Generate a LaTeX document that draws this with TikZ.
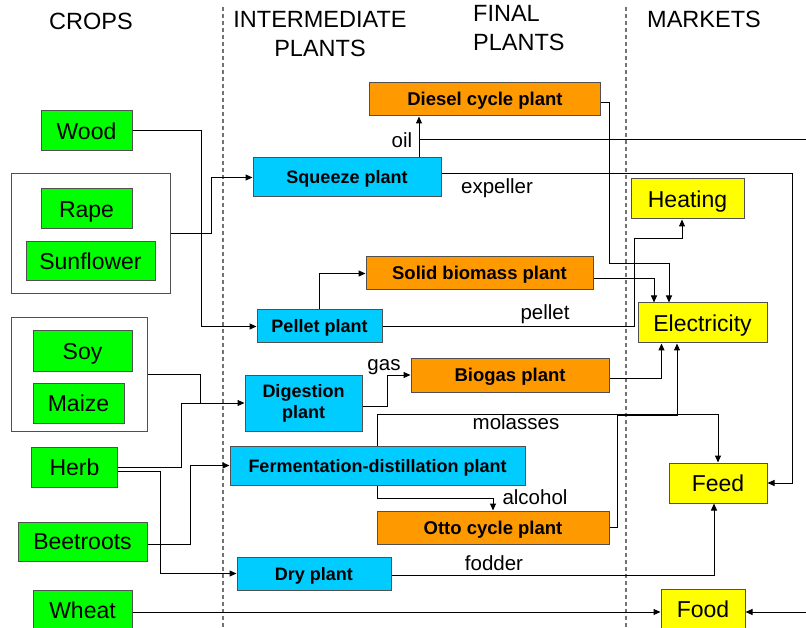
\documentclass[tikz,border=0pt]{standalone}
\usepackage{fontspec}
\setmainfont{Liberation Sans}
\usetikzlibrary{arrows.meta}

\definecolor{cropgreen}{HTML}{00FF00}
\definecolor{plantblue}{HTML}{00CCFF}
\definecolor{finalorange}{HTML}{FF9900}
\definecolor{marketyellow}{HTML}{FFFF00}
\definecolor{rahmen}{HTML}{505050}

\begin{document}
\begin{tikzpicture}[x=1pt,y=-1pt,
		kasten/.style={draw=rahmen,line width=1pt,inner sep=0pt},
		crop/.style={kasten,fill=cropgreen,font=\fontsize{23}{27}\selectfont,text height=16.5pt,text depth=0pt},
		inter/.style={kasten,fill=plantblue,align=center,font=\bfseries\fontsize{18}{21}\selectfont,text height=13pt,text depth=0pt},
		final/.style={kasten,fill=finalorange,font=\bfseries\fontsize{18.5}{22}\selectfont,text height=13pt,text depth=0pt},
		market/.style={kasten,fill=marketyellow,font=\fontsize{23}{27}\selectfont,text height=16.5pt,text depth=0pt},
		gruppe/.style={draw=rahmen,line width=1pt,inner sep=0pt},
		kopf/.style={font=\fontsize{23.5}{29}\selectfont,align=center,inner sep=0pt},
		lbl/.style={font=\fontsize{20.5}{24}\selectfont,inner sep=0pt},
		pfeil/.style={line width=1pt,-{Triangle[length=7pt,width=6pt]}},
		linie/.style={line width=1pt},
		trenn/.style={draw=black!55,line width=1.3pt,dash pattern=on 4pt off 3pt}]
		
		\useasboundingbox (0,0) rectangle (806,628);
		
		% Trennlinien und Spaltenkoepfe
		\draw[trenn] (223,7) -- (223,630);
		\draw[trenn] (626,7) -- (626,630);
		\node[kopf] (hcrops) at (91,21) {CROPS};
		\node[kopf] (hinter) at (320,34) {INTERMEDIATE\\PLANTS};
		\node[kopf,align=left,anchor=west] (hfinal) at (473,28) {FINAL\\PLANTS};
		\node[kopf] (hmarkets) at (704,19) {MARKETS};
		
		% Pflanzen
		\node[gruppe,minimum width=159pt,minimum height=120pt] (grpA) at (90.5,234) {};
		\node[gruppe,minimum width=136pt,minimum height=113pt] (grpB) at (79,374.5) {};
		\node[crop,minimum width=91pt,minimum height=40pt] (wood) at (86.5,131) {Wood};
		\node[crop,minimum width=91pt,minimum height=40pt] (rape) at (86.5,209) {Rape};
		\node[crop,minimum width=129pt,minimum height=39pt] (sunflower) at (90.5,261.5) {Sunflower};
		\node[crop,minimum width=99pt,minimum height=40pt] (soy) at (82.5,351) {Soy};
		\node[crop,minimum width=91pt,minimum height=40pt] (maize) at (78.5,403) {Maize};
		\node[crop,minimum width=86pt,minimum height=40pt] (herb) at (74.5,467) {Herb};
		\node[crop,minimum width=129pt,minimum height=39pt] (beet) at (82.5,541.5) {Beetroots};
		\node[crop,minimum width=99pt,minimum height=40pt] (wheat) at (82.5,610) {Wheat};
		
		% Zwischenanlagen
		\node[inter,minimum width=188pt,minimum height=39pt] (squeeze) at (347,177.5) {Squeeze plant};
		\node[inter,minimum width=125pt,minimum height=33pt] (pellet) at (319.5,326.5) {Pellet plant};
		\node[inter,minimum width=117pt,minimum height=56pt,text height=,text depth=] (digestion) at (303.5,403) {Digestion\\plant};
		\node[inter,minimum width=295pt,minimum height=39pt] (ferment) at (377.5,465.5) {Fermentation-distillation plant};
		\node[inter,minimum width=154pt,minimum height=33pt] (dry) at (314,573.5) {Dry plant};
		
		% Endanlagen
		\node[final,minimum width=231pt,minimum height=33pt] (diesel) at (485,99.5) {Diesel cycle plant};
		\node[final,minimum width=227pt,minimum height=33pt] (solid) at (479.5,273.5) {Solid biomass plant};
		\node[final,minimum width=198pt,minimum height=34pt] (biogas) at (510,375) {Biogas plant};
		\node[final,minimum width=232pt,minimum height=33pt] (otto) at (493,527.5) {Otto cycle plant};
		
		% Maerkte
		\node[market,minimum width=113pt,minimum height=40pt] (heating) at (687.5,199) {Heating};
		\node[market,minimum width=129pt,minimum height=40pt] (elec) at (702.5,323) {Electricity};
		\node[market,minimum width=98pt,minimum height=40pt] (feed) at (718,483) {Feed};
		\node[market,minimum width=84pt,minimum height=40pt] (food) at (703,609) {Food};
		
		% Beschriftungen der Stroeme
		\node[lbl] (oil) at (402,140) {oil};
		\node[lbl] (expeller) at (497,188) {expeller};
		\node[lbl] (pelletlbl) at (545,314) {pellet};
		\node[lbl] (gas) at (384,367) {gas};
		\node[lbl] (molasses) at (516,422) {molasses};
		\node[lbl] (alcohol) at (535,497) {alcohol};
		\node[lbl] (fodder) at (494,563) {fodder};
		
		% freie Enden
		\coordinate (oilabzweig) at (419,140);
		\coordinate (oilexport) at (806,140);
		\coordinate (foodin) at ([yshift=-3pt]food.west);
		\coordinate (foodimport) at (806,612);
		
		% Pflanzen -> Zwischenanlagen
		\draw[pfeil] (wood.east) -| (201,326.5) -- (pellet.west);
		\draw[pfeil] (grpA.east) -| (211,177.5) -- (squeeze.west);
		\draw[linie] (grpB.east) -| (200,403);
		\draw[pfeil] (herb.east) -| (181,403) -- (digestion.west);
		\draw[pfeil] ([yshift=-4pt]herb.east) -| (160,573.5) -- (dry.west);
		\draw[pfeil] ([yshift=-3pt]beet.east) -| (190,465.5) -- (ferment.west);
		\draw[pfeil] (wheat.east |- foodin) -- (foodin);
		\draw[pfeil] (foodimport) -- (food.east |- foodimport);
		
		% Zwischenanlagen -> Endanlagen
		\draw[pfeil] ([xshift=72pt]squeeze.north) -- ([xshift=72pt]squeeze.north |- diesel.south);
		\draw[linie] (oilabzweig) -- (oilexport);
		\draw[pfeil] ([yshift=4pt]squeeze.east) -| (792,483) -- (feed.east);
		\draw[pfeil] (pellet.north) |- (solid.west);
		\draw[pfeil] (pellet.east) -| (634,239) -| ([xshift=-5.5pt]heating.south);
		\draw[pfeil] ([yshift=-3pt]digestion.east) -| (387,375) -- (biogas.west);
		\draw[pfeil] (ferment.north) -- ++(0,-31) -| (feed.north);
		\draw[pfeil] (ferment.south) -- ++(0,13) -| (otto.north);
		\draw[pfeil] ([yshift=-1.5pt]dry.east) -| ([xshift=-4pt]feed.south);
		
		% Endanlagen -> Maerkte
		\draw[pfeil] ([yshift=-3pt]diesel.east) -| (609,264) -| ([xshift=-33.5pt]elec.north);
		\draw[pfeil] ([yshift=-5pt]solid.east) -| ([xshift=-48.5pt]elec.north);
		\draw[pfeil] ([yshift=-3pt]biogas.east) -| ([xshift=-41pt]elec.south);
		\draw[pfeil] (otto.east) -| (617,415) -| ([xshift=-25.5pt]elec.south);
		
	\end{tikzpicture}
\end{document}
